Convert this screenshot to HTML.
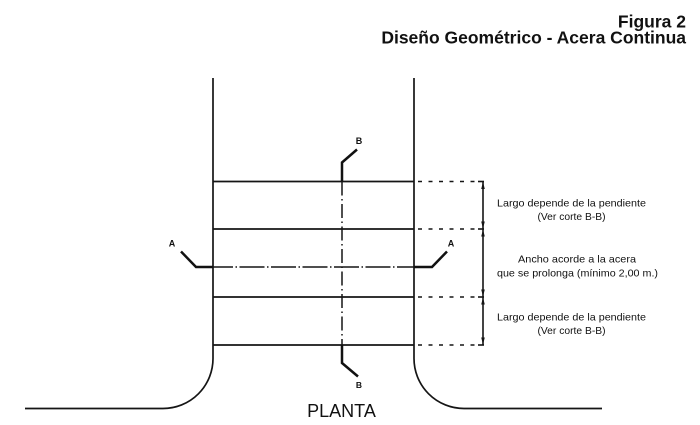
<!DOCTYPE html>
<html>
<head>
<meta charset="utf-8">
<style>
html,body{margin:0;padding:0;background:#fff;}
body{width:700px;height:425px;overflow:hidden;position:relative;}
svg{position:absolute;left:0;top:0;}
</style>
</head>
<body>
<svg width="700" height="425" viewBox="0 0 700 425" xmlns="http://www.w3.org/2000/svg">
  <!-- Title -->
  <g font-family="'Liberation Sans', Arial, sans-serif" font-weight="bold" fill="#111" text-anchor="end">
    <text x="686" y="27.5" font-size="17.5">Figura 2</text>
    <text x="686" y="43.5" font-size="17.5">Diseño Geométrico - Acera Continua</text>
  </g>

  <g stroke="#151515" fill="none" stroke-width="1.7">
    <!-- Left curb -->
    <path d="M213 78 L213 358 A50 50 0 0 1 163 408.5 L25 408.5"/>
    <!-- Right curb -->
    <path d="M414 78 L414 358 A50 50 0 0 0 464 408.5 L602 408.5"/>
    <!-- Horizontal lines -->
    <line x1="213" y1="181.5" x2="414" y2="181.5"/>
    <line x1="213" y1="229" x2="414" y2="229"/>
    <line x1="213" y1="297" x2="414" y2="297"/>
    <line x1="213" y1="345" x2="414" y2="345"/>
  </g>

  <!-- Dotted extension lines -->
  <g stroke="#151515" stroke-width="1.6" stroke-dasharray="4 6.5">
    <line x1="418" y1="181.5" x2="480" y2="181.5"/>
    <line x1="418" y1="229" x2="480" y2="229"/>
    <line x1="418" y1="297" x2="480" y2="297"/>
    <line x1="418" y1="345" x2="480" y2="345"/>
  </g>
  <g stroke="#151515" stroke-width="1.6">
    <line x1="478" y1="181.5" x2="484" y2="181.5"/>
    <line x1="478" y1="229" x2="484" y2="229"/>
    <line x1="478" y1="297" x2="484" y2="297"/>
    <line x1="478" y1="345" x2="484" y2="345"/>
    <!-- dimension line -->
    <line x1="483" y1="181.5" x2="483" y2="345"/>
  </g>
  <!-- arrowheads -->
  <g fill="#151515">
    <polygon points="483,182 481.2,189 484.8,189"/>
    <polygon points="483,228.5 481.2,221.5 484.8,221.5"/>
    <polygon points="483,229.5 481.2,236.5 484.8,236.5"/>
    <polygon points="483,296.5 481.2,289.5 484.8,289.5"/>
    <polygon points="483,297.5 481.2,304.5 484.8,304.5"/>
    <polygon points="483,344.5 481.2,337.5 484.8,337.5"/>
  </g>

  <!-- Section A-A -->
  <g stroke="#111" fill="none" stroke-width="2.5" stroke-linejoin="miter">
    <path d="M181 251.5 L196 267 L213 267"/>
    <path d="M414 267 L432 267 L447 251.5"/>
    <!-- Section B-B -->
    <path d="M357 149.5 L342 162.5 L342 181.5"/>
    <path d="M342 345 L342 363 L358 376.5"/>
  </g>
  <g stroke="#151515" stroke-width="1.5" fill="none">
    <line x1="213" y1="267" x2="414" y2="267" stroke-dasharray="25 2.5 1.5 2.5" stroke-dashoffset="5"/>
    <line x1="342" y1="181.5" x2="342" y2="345" stroke-dasharray="14 3.5 1.5 3.5" stroke-dashoffset="0"/>
  </g>

  <!-- Section labels -->
  <g font-family="'Liberation Sans', Arial, sans-serif" fill="#111" text-anchor="middle" font-size="9" font-weight="bold">
    <text x="172" y="246.5">A</text>
    <text x="451" y="246.5">A</text>
    <text x="359" y="144">B</text>
    <text x="359" y="388" font-size="8.5">B</text>
  </g>

  <!-- Dimension labels -->
  <g font-family="'Liberation Sans', Arial, sans-serif" fill="#111" text-anchor="middle" font-size="10.3">
    <text x="571.5" y="206.5" textLength="149" lengthAdjust="spacingAndGlyphs">Largo depende de la pendiente</text>
    <text x="571.5" y="220">(Ver corte B-B)</text>
    <text x="577" y="262.5" textLength="118" lengthAdjust="spacingAndGlyphs">Ancho acorde a la acera</text>
    <text x="577.5" y="276.5" textLength="161" lengthAdjust="spacingAndGlyphs">que se prolonga (mínimo 2,00 m.)</text>
    <text x="571.5" y="320.5" textLength="149" lengthAdjust="spacingAndGlyphs">Largo depende de la pendiente</text>
    <text x="571.5" y="334">(Ver corte B-B)</text>
  </g>

  <!-- PLANTA -->
  <text x="341.5" y="417" font-family="'Liberation Sans', Arial, sans-serif" font-size="18" fill="#111" text-anchor="middle">PLANTA</text>
</svg>
</body>
</html>
